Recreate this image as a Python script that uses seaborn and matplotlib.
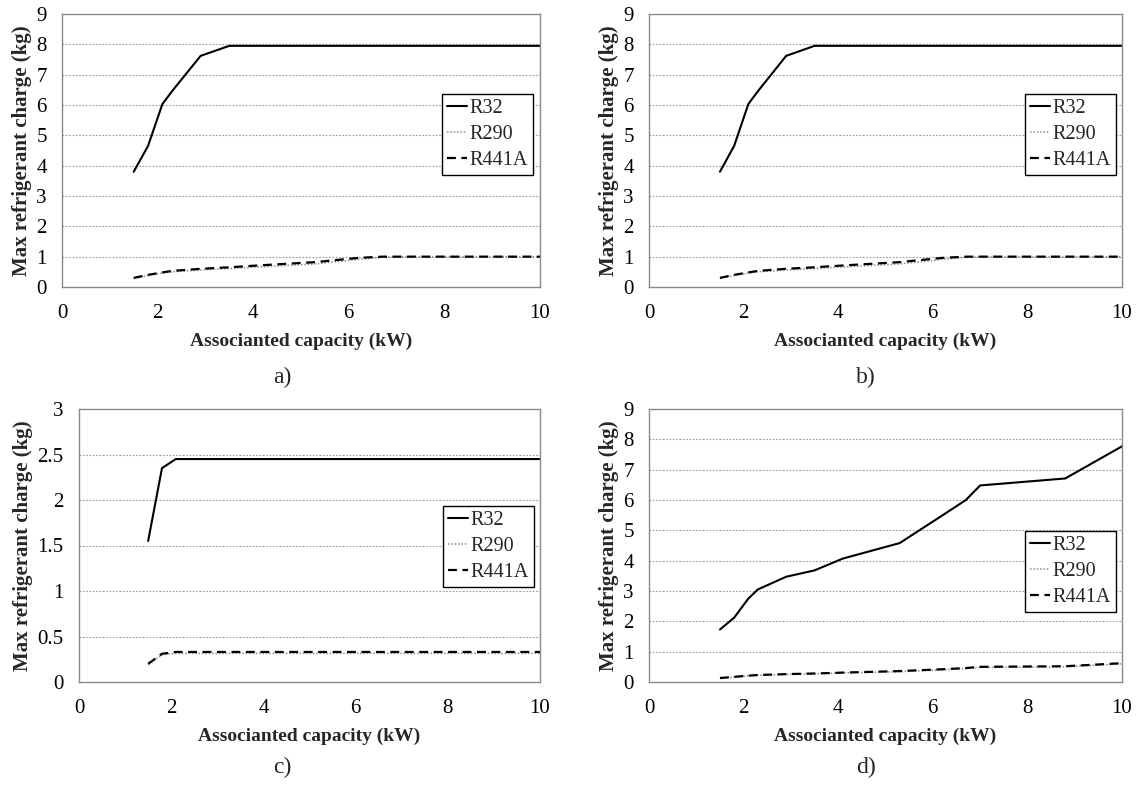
import numpy as np
import pandas as pd
import matplotlib
matplotlib.use("Agg")
import matplotlib.pyplot as plt
import seaborn as sns

# capacidades associadas (kW)
capacidade = [1.5, 1.8, 2.1, 2.3, 2.9, 3.5, 4.1, 5.3, 6.2, 6.7, 7.0, 8.8, 10.0]

# carga maxima (kg) - paineis a) e b)
r32_ab = [3.8, 4.65, 6.03, 6.45, 7.62, 7.95, 7.95, 7.95, 7.95, 7.95, 7.95, 7.95, 7.95]
r290_ab = [0.28, 0.38, 0.46, 0.5, 0.56, 0.61, 0.66, 0.76, 0.91, 0.98, 1.0, 1.0, 1.0]
r441a_ab = [0.3, 0.4, 0.48, 0.53, 0.6, 0.65, 0.71, 0.82, 0.96, 1.0, 1.0, 1.0, 1.0]

# painel c)
r32_c = [1.55, 2.35, 2.45, 2.45, 2.45, 2.45, 2.45, 2.45, 2.45, 2.45, 2.45, 2.45, 2.45]
r290_c = [0.19, 0.3, 0.315, 0.315, 0.315, 0.315, 0.315, 0.315, 0.315, 0.315, 0.315, 0.315, 0.315]
r441a_c = [0.2, 0.31, 0.33, 0.33, 0.33, 0.33, 0.33, 0.33, 0.33, 0.33, 0.33, 0.33, 0.33]

# painel d)
r32_d = [1.73, 2.12, 2.75, 3.05, 3.47, 3.68, 4.07, 4.58, 5.49, 6.0, 6.48, 6.71, 7.77]
r290_d = [0.12, 0.16, 0.2, 0.22, 0.25, 0.27, 0.3, 0.34, 0.4, 0.44, 0.48, 0.5, 0.6]
r441a_d = [0.13, 0.17, 0.21, 0.23, 0.26, 0.28, 0.31, 0.36, 0.42, 0.46, 0.5, 0.52, 0.62]

series_nomes = ["R32", "R290", "R441A"]
paineis = ["a)", "b)", "c)", "d)"]
y_max = [9, 9, 3, 9]
y_passo = [1, 1, 0.5, 1]
x_ticks = [0, 2, 4, 6, 8, 10]

sns.set_theme(style="white")
plt.rcParams["font.family"] = ["Liberation Serif", "DejaVu Serif"]

estilos = {
    "R32": dict(color="black", linestyle="-", linewidth=1.5),
    "R290": dict(color="#8c8c8c", linestyle=(0, (1, 1.2)), linewidth=1.1),
    "R441A": dict(color="black", linestyle=(0, (4, 2.5)), linewidth=1.6),
}

dados = [
    (r32_ab, r290_ab, r441a_ab),
    (r32_ab, r290_ab, r441a_ab),
    (r32_c, r290_c, r441a_c),
    (r32_d, r290_d, r441a_d),
]

fig = plt.figure(figsize=(11.41, 7.91), dpi=100)
W, H = 1141, 791
# posicoes em pixels: esquerda, direita, topo, base
caixas = [(62, 540, 14, 287), (649, 1122, 14, 287),
          (79, 540, 409, 682), (649, 1122, 409, 682)]
leg_pos = [(0.795, 0.707), (0.795, 0.707), (0.79, 0.645), (0.795, 0.553)]
rotulo_x = [282, 866, 282, 866]
rotulo_y = [377, 377, 767, 767]

for i, (esq, dir_, topo, base) in enumerate(caixas):
    ax = fig.add_axes([esq / W, 1 - base / H, (dir_ - esq) / W, (base - topo) / H])
    for nome, vals in zip(series_nomes, dados[i]):
        sns.lineplot(x=capacidade, y=vals, ax=ax, label=nome, **estilos[nome])

    ax.set_xlim(0, 10)
    ax.set_ylim(0, y_max[i])
    ax.set_xticks(x_ticks)
    yt = np.arange(0, y_max[i] + y_passo[i] / 2, y_passo[i])
    ax.set_yticks(yt)
    ax.set_yticklabels([f"{v:g}" for v in yt])
    for v in yt[1:-1]:
        ax.axhline(v, color="#9a9a9a", linestyle=(0, (1.5, 1.5)), linewidth=0.8, zorder=0)
    ax.tick_params(axis="y", length=0, labelsize=15, pad=11, colors="black")
    ax.tick_params(axis="x", length=0, labelsize=15, pad=12, colors="black")
    for s in ax.spines.values():
        s.set_color("#8a8a8a")
        s.set_linewidth(1.0)
        s.set_visible(True)

    ax.set_xlabel("Associanted capacity (kW)", fontsize=14, fontweight="bold", labelpad=7)
    ax.set_ylabel("Max refrigerant charge (kg)", fontsize=15, fontweight="bold", labelpad=3)

    leg = ax.legend(loc="upper left", bbox_to_anchor=leg_pos[i], fontsize=14.5,
                    frameon=True, fancybox=False, framealpha=1, edgecolor="black",
                    handlelength=1.0, handletextpad=0.1, labelspacing=0.35,
                    borderpad=0.25, borderaxespad=0)
    leg.get_frame().set_linewidth(1.0)

    fig.text(rotulo_x[i] / W, 1 - rotulo_y[i] / H, paineis[i], fontsize=17,
             ha="center", va="center")

fig.savefig("out.png", dpi=100)
